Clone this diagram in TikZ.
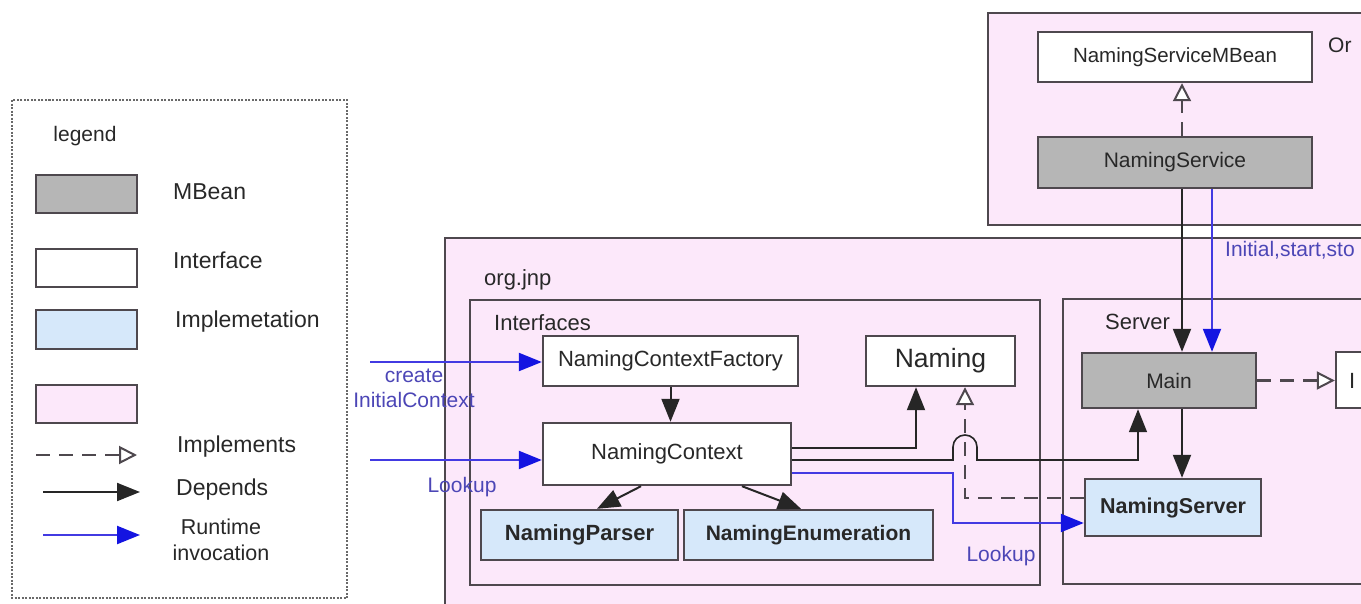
\documentclass[tikz,border=0pt]{standalone}
\usepackage{fontspec}
\setmainfont{Liberation Sans}
\usetikzlibrary{arrows.meta,calc}
\definecolor{pkg}{RGB}{252,232,250}
\definecolor{mbean}{RGB}{182,182,182}
\definecolor{impl}{RGB}{214,232,250}
\definecolor{edge}{RGB}{78,72,78}
\definecolor{rtline}{RGB}{66,58,226}
\definecolor{rthead}{RGB}{20,20,225}
\definecolor{rttext}{RGB}{76,70,182}
\definecolor{ink}{RGB}{40,40,40}
\definecolor{dots}{RGB}{105,105,105}
\begin{document}
\begin{tikzpicture}[x=1pt,y=-1pt,
  box/.style={draw=edge,line width=2.4pt,rectangle,inner sep=0pt,text=ink,
    font=\fontsize{22}{24}\selectfont},
  iface/.style={box,fill=white},
  mbeanbox/.style={box,fill=mbean},
  implbox/.style={box,fill=impl,font=\fontsize{22}{24}\selectfont\bfseries},
  pkgbox/.style={draw=edge,line width=2.2pt,fill=pkg},
  pkglbl/.style={anchor=west,inner sep=0pt,text=ink,font=\fontsize{22}{24}\selectfont},
  dep/.style={draw=black!85,line width=2pt,-{Triangle[length=23pt,width=18pt]}},
  implarrow/.style={draw=edge,line width=2.4pt,dash pattern=on 14pt off 9pt,
    -{Triangle[length=18pt,width=18pt,fill=white,line width=2pt]}},
  rt/.style={draw=rtline,line width=2.3pt,-{Triangle[length=23pt,width=18pt,fill=rthead,color=rthead]}},
  leglbl/.style={anchor=west,inner sep=0pt,text=ink,font=\fontsize{23}{26}\selectfont},
  rtlbl/.style={inner sep=0pt,text=rttext,align=center,font=\fontsize{21}{25}\selectfont}
]
\useasboundingbox (0,0) rectangle (1361,603);
\clip (0,0) rectangle (1361,603);

% ---------- legend ----------
\draw[dots,line width=2.6pt,dash pattern=on 2pt off 1.5pt] (12,100) rectangle (347,598);
\node[inner sep=0pt,text=ink,font=\fontsize{21}{24}\selectfont] (legtitle) at (85,136) {legend};
\node[mbeanbox,minimum width=101pt,minimum height=38pt] (legmbean) at (86.5,194) {};
\node[iface,minimum width=101pt,minimum height=38pt] (legiface) at (86.5,268) {};
\node[box,fill=impl,minimum width=101pt,minimum height=39pt] (legimpl) at (86.5,329.5) {};
\node[box,fill=pkg,minimum width=101pt,minimum height=38pt] (legpkg) at (86.5,404) {};
\node[leglbl] (lbmbean) at (173,192) {MBean};
\node[leglbl] (lbiface) at (173,260) {Interface};
\node[leglbl] (lbimpl) at (175,322) {Implemetation};
\node[leglbl] (lbimpls) at (177,447) {Implements};
\node[leglbl] (lbdep) at (176,490) {Depends};
\node[inner sep=0pt,text=ink,align=center,font=\fontsize{21.5}{26}\selectfont] (lbrt) at (221,540) {Runtime\\invocation};
\coordinate (li0) at (36,455);  \coordinate (li1) at (137,455);
\coordinate (ld0) at (43,492);  \coordinate (ld1) at (140,492);
\coordinate (lr0) at (43,535);  \coordinate (lr1) at (140,535);
\draw[implarrow] (li0) -- (li1);
\draw[dep] (ld0) -- (ld1);
\draw[rt] (lr0) -- (lr1);

% ---------- packages ----------
\draw[pkgbox] (988,13) rectangle (1420,225);
\draw[pkgbox] (445,238) rectangle (1420,660);
\draw[pkgbox] (470,300) rectangle (1040,585);
\draw[pkgbox] (1063,299) rectangle (1420,584);
\node[pkglbl,font=\fontsize{21}{24}\selectfont] (orlbl) at (1328,45) {Or};
\node[pkglbl] (jnplbl) at (484,280) {org.jnp};
\node[pkglbl] (intlbl) at (494,323) {Interfaces};
\node[pkglbl] (srvlbl) at (1105,322) {Server};

% ---------- classes ----------
\node[iface,minimum width=274pt,minimum height=50pt,font=\fontsize{20.5}{24}\selectfont] (nsmbean) at (1175,57) {NamingServiceMBean};
\node[mbeanbox,minimum width=274pt,minimum height=51pt,font=\fontsize{21}{24}\selectfont] (nservice) at (1175,162.5) {NamingService};
\node[iface,minimum width=255pt,minimum height=50pt] (ncf) at (670.5,361) {NamingContextFactory};
\node[iface,minimum width=149pt,minimum height=50pt,font=\fontsize{26.5}{30}\selectfont] (naming) at (940.5,361) {Naming};
\node[iface,minimum width=248pt,minimum height=62pt] (nc) at (667,454) {NamingContext};
\node[implbox,minimum width=197pt,minimum height=50pt] (nparser) at (579.5,535) {NamingParser};
\node[implbox,minimum width=249pt,minimum height=50pt,font=\fontsize{21}{24}\selectfont\bfseries] (nenum) at (808.5,535) {NamingEnumeration};
\node[mbeanbox,minimum width=174pt,minimum height=55pt,font=\fontsize{21}{24}\selectfont] (main) at (1169,380.5) {Main};
\node[implbox,minimum width=176pt,minimum height=57pt,font=\fontsize{21.5}{24}\selectfont\bfseries] (nserver) at (1173,507.5) {NamingServer};
\node[iface,minimum width=120pt,minimum height=56pt] (rbox) at (1396,380) {};
\node[pkglbl] (rboxlbl) at (1349,381) {I};

% ---------- runtime labels ----------
\node[rtlbl] (lblcreate) at (414,388) {create\\InitialContext};
\node[rtlbl] (lbllook1) at (462,487) {Lookup};
\node[rtlbl] (lbllook2) at (1001,556) {Lookup};
\node[rtlbl,anchor=west] (lblinit) at (1225,250) {Initial,start,sto};

% ---------- connectors ----------
\coordinate (ciin) at (370,362);
\coordinate (lkin) at (370,460);
\draw[rt] (ciin) -- (ciin -| ncf.west);
\draw[rt] (lkin) -- (lkin -| nc.west);

\draw[dep] (ncf.south) -- (ncf.south |- nc.north);
\draw[dep] ([xshift=-26pt]nc.south) -- ([xshift=17.5pt]nparser.north);
\draw[dep] ([xshift=75pt]nc.south) -- ([xshift=-7.5pt]nenum.north);

\coordinate (namingin) at ([xshift=-24.5pt]naming.south);
\draw[dep] ([yshift=6pt]nc.east) -| (namingin);

% line to Main hops over the dashed realisation line
\coordinate (hop) at (965,460);
\coordinate (mainin) at ([xshift=-31pt]main.south);
\draw[dep,line width=1.6pt] ([yshift=-6pt]nc.east) -- ([xshift=-12pt]hop) -- ++(0,-13)
  arc[start angle=180,end angle=0,radius=12pt] -- ([xshift=12pt]hop) -- (mainin |- hop) -- (mainin);

\coordinate (namingimpl) at ([xshift=24.5pt]naming.south);
\draw[implarrow] ([yshift=9.5pt]nserver.west) -| (namingimpl);

\coordinate (bendA) at (953,473);
\coordinate (bendB) at (953,523);
\draw[rt] ([yshift=-19pt]nc.east) -- (bendA) -- (bendB) -- (bendB -| nserver.west);

\draw[implarrow] ([xshift=7pt]nservice.north) -- ([xshift=7pt]nsmbean.south);
\draw[dep] ([xshift=7pt]nservice.south) -- ([xshift=13pt]main.north);
\draw[rt,line width=2pt] ([xshift=37pt]nservice.south) -- ([xshift=43pt]main.north);
\draw[dep] ([xshift=13pt]main.south) -- ([xshift=9pt]nserver.north);
\draw[implarrow] (main.east) -- (main.east -| rbox.west);
\end{tikzpicture}
\end{document}
